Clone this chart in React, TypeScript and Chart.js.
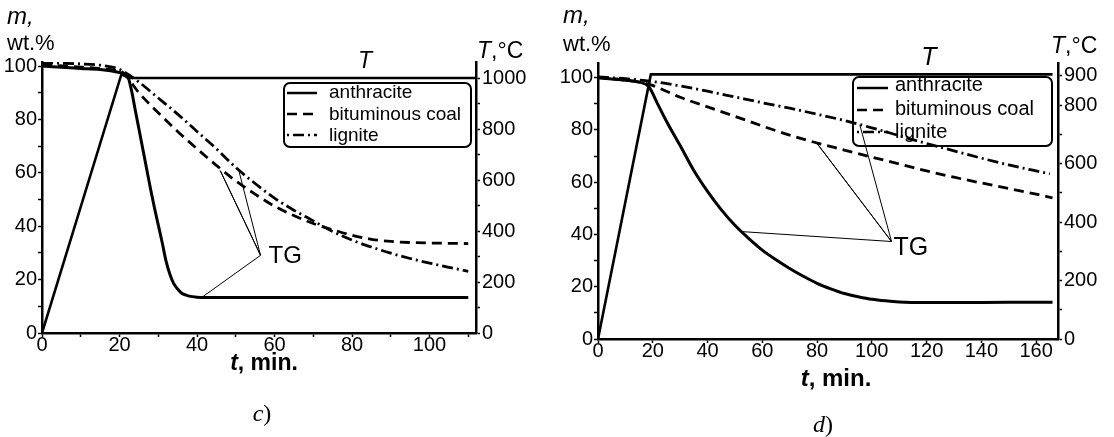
import React, { useEffect, useRef } from "react";
import { Chart, registerables } from "chart.js";

Chart.register(...registerables);

// ---------- Panel c) data ----------
const cTempTime = [0, 20.5, 22.5, 112];
const cTempValue = [0, 1015, 1000, 1000];

const cAnthraciteTime = [0, 5, 10, 15, 20, 21, 22, 23, 24, 25, 26, 27, 28, 29, 30, 31, 32, 33, 34, 35, 36, 37, 38, 40, 42, 50, 60, 70, 80, 90, 100, 110];
const cAnthraciteMass = [100, 99.5, 99.1, 98.7, 97.6, 97.2, 96.6, 91.5, 84, 76.5, 69, 61.5, 54, 47, 40.5, 34, 27, 22, 18.5, 16.5, 15, 14.3, 13.8, 13.4, 13.3, 13.3, 13.3, 13.3, 13.3, 13.3, 13.3, 13.3];

const cBituminousTime = [0, 10, 15, 20, 21, 25, 30, 35, 40, 45, 50, 55, 60, 65, 70, 75, 80, 85, 90, 95, 100, 105, 110];
const cBituminousMass = [100.5, 99.6, 99, 98, 97.4, 90, 82.5, 75.5, 69, 62.8, 57, 52, 47.5, 44, 41, 38.7, 36.6, 35.1, 34.3, 33.9, 33.7, 33.6, 33.5];

const cLigniteTime = [0, 10, 15, 20, 21, 25, 30, 35, 40, 45, 50, 55, 60, 65, 70, 75, 80, 85, 90, 95, 100, 105, 110];
const cLigniteMass = [101.2, 100.8, 100.3, 98.8, 98, 94, 88, 82, 75.5, 69, 62, 56, 50.5, 46, 42, 38, 34.8, 32.2, 29.9, 27.9, 26.2, 24.6, 23.1];

// TG leader lines (anthracite -> hub -> bituminous -> hub -> lignite)
const cLeaderTime = [41.3, 56.4, 46.0, 56.4, 50.8];
const cLeaderMass = [13.4, 29.1, 60.8, 29.1, 60.8];

// ---------- Panel d) data ----------
const dTempTime = [0, 19.3, 166];
const dTempValue = [0, 905, 905];

const dAnthraciteTime = [0, 5, 10, 15, 18.5, 22, 25, 30, 35, 40, 45, 50, 55, 60, 65, 70, 75, 80, 85, 90, 95, 100, 105, 110, 120, 140, 160, 166];
const dAnthraciteMass = [100, 99.5, 99, 98.3, 96.6, 89.5, 83.3, 74, 64.5, 56.5, 49.5, 43.5, 38.5, 34, 30.3, 27, 24, 21.3, 19.2, 17.4, 16.2, 15.2, 14.6, 14.2, 14, 14, 14.1, 14.1];

const dBituminousTime = [0, 10, 18.5, 25, 30, 40, 50, 60, 70, 80, 90, 100, 110, 120, 130, 140, 150, 160, 166];
const dBituminousMass = [100, 99, 97.5, 94.8, 92.5, 88.8, 85.2, 81.5, 78, 75, 72.3, 69.6, 67, 64.3, 61.9, 59.7, 57.6, 55.4, 54];

const dLigniteTime = [0, 10, 20, 30, 40, 50, 60, 70, 80, 90, 100, 110, 120, 130, 140, 150, 160, 165];
const dLigniteMass = [100.3, 99.6, 98.5, 96.8, 94.8, 92.6, 90.4, 88.3, 86, 83.6, 80.8, 77.8, 74.8, 72, 69.2, 66.6, 64.3, 63.2];

const dLeaderTime = [52.4, 107.2, 79.8, 107.2, 95.6];
const dLeaderMass = [41.1, 37.3, 75.1, 37.3, 82.0];

const legendLabels = ["anthracite", "bituminous coal", "lignite"];

// ---------- styling ----------
const SANS = "'Liberation Sans', Arial, Helvetica, sans-serif";
const SERIF = "'Liberation Serif', 'Times New Roman', serif";
const DASHED = [10, 6];
const DASHDOT = [11, 4, 2, 4];

const zip = (xs: number[], ys: number[]) => xs.map((x, i) => ({ x, y: ys[i] }));

type Part = { text: string; font: string };
type TextItem = { parts: Part[]; x: number; y: number; center?: boolean };

interface PanelSpec {
  left: number;
  width: number;
  top: number;
  yWidth: number;
  y1Width: number;
  xHeight: number;
  xMax: number;
  yMax: number;
  y1Max: number;
  xStep: number;
  y1Extra: number[];
  tickSize: number;
  temp: [number[], number[]];
  anth: [number[], number[]];
  bit: [number[], number[]];
  lig: [number[], number[]];
  leader: [number[], number[]];
  texts: TextItem[];
  tg: { dx: number; dy: number; size: number };
  legend: {
    x: number; y: number; w: number; h: number;
    rows: number[]; lines: number[]; sx0: number; sx1: number; tx: number; size: number;
  };
}

function makePlugin(s: PanelSpec) {
  return {
    id: "panelDecor",
    afterDraw(chart: any) {
      const ctx = chart.ctx as CanvasRenderingContext2D;
      ctx.save();
      ctx.fillStyle = "#000";
      ctx.strokeStyle = "#000";
      ctx.textBaseline = "alphabetic";
      ctx.textAlign = "left";
      for (const item of s.texts) {
        let total = 0;
        for (const p of item.parts) {
          ctx.font = p.font;
          total += ctx.measureText(p.text).width;
        }
        let x = item.center ? item.x - total / 2 : item.x;
        for (const p of item.parts) {
          ctx.font = p.font;
          ctx.fillText(p.text, x, item.y);
          x += ctx.measureText(p.text).width;
        }
      }
      // TG label next to the leader hub
      const hx = chart.scales.x.getPixelForValue(s.leader[0][1]);
      const hy = chart.scales.y.getPixelForValue(s.leader[1][1]);
      ctx.font = `${s.tg.size}px ${SANS}`;
      ctx.fillText("TG", hx + s.tg.dx, hy + s.tg.dy);

      // legend box
      const L = s.legend;
      ctx.lineWidth = 2;
      ctx.beginPath();
      (ctx as any).roundRect(L.x, L.y, L.w, L.h, 6);
      ctx.stroke();
      const dashes = [[], DASHED, DASHDOT];
      const offsets = [0, 0, 15];
      ctx.font = `${L.size}px ${SANS}`;
      for (let i = 0; i < 3; i++) {
        ctx.setLineDash(dashes[i]);
        ctx.lineDashOffset = offsets[i];
        ctx.lineWidth = 2.5;
        ctx.beginPath();
        ctx.moveTo(L.sx0, L.lines[i]);
        ctx.lineTo(L.sx1, L.lines[i]);
        ctx.stroke();
        ctx.setLineDash([]);
        ctx.fillText(legendLabels[i], L.tx, L.rows[i]);
      }
      ctx.restore();
    },
  };
}

function buildConfig(s: PanelSpec): any {
  const base = {
    borderColor: "#000",
    pointRadius: 0,
    pointHoverRadius: 0,
    fill: false,
  };
  const tickFont = { family: SANS, size: s.tickSize, lineHeight: 1 };
  const grid = {
    display: true,
    drawOnChartArea: false,
    drawTicks: true,
    tickLength: 4,
    tickColor: "#000",
    tickWidth: 1.5,
    color: "#000",
  };
  const border = { display: true, color: "#000", width: 2.5 };
  return {
    type: "line",
    data: {
      datasets: [
        { ...base, label: "T", data: zip(s.temp[0], s.temp[1]), yAxisID: "y1", borderWidth: 2.6, tension: 0 },
        { ...base, label: legendLabels[0], data: zip(s.anth[0], s.anth[1]), yAxisID: "y", borderWidth: 3, cubicInterpolationMode: "monotone" },
        { ...base, label: legendLabels[1], data: zip(s.bit[0], s.bit[1]), yAxisID: "y", borderWidth: 2.8, borderDash: DASHED, cubicInterpolationMode: "monotone" },
        { ...base, label: legendLabels[2], data: zip(s.lig[0], s.lig[1]), yAxisID: "y", borderWidth: 2.8, borderDash: DASHDOT, cubicInterpolationMode: "monotone" },
        { ...base, label: "TG", data: zip(s.leader[0], s.leader[1]), yAxisID: "y", borderWidth: 1, tension: 0 },
      ],
    },
    options: {
      responsive: false,
      animation: false,
      devicePixelRatio: 1,
      events: [],
      layout: { padding: { top: s.top, left: 0, right: 0, bottom: 0 } },
      plugins: { legend: { display: false }, tooltip: { enabled: false }, title: { display: false } },
      scales: {
        x: {
          type: "linear",
          position: "bottom",
          min: 0,
          max: s.xMax,
          ticks: {
            stepSize: s.xStep,
            autoSkip: false,
            maxRotation: 0,
            includeBounds: false,
            maxTicksLimit: 1000,
            padding: -2,
            color: "#000",
            font: tickFont,
            callback: (v: number) => (v % 20 === 0 ? String(v) : ""),
          },
          grid,
          border,
          afterFit: (sc: any) => { sc.height = s.xHeight; },
        },
        y: {
          type: "linear",
          position: "left",
          min: 0,
          max: s.yMax,
          ticks: {
            stepSize: 10,
            autoSkip: false,
            includeBounds: false,
            maxTicksLimit: 1000,
            padding: 1,
            color: "#000",
            font: tickFont,
            callback: (v: number) => (v % 20 === 0 ? String(v) : ""),
          },
          grid,
          border,
          afterFit: (sc: any) => { sc.width = s.yWidth; },
        },
        y1: {
          type: "linear",
          position: "right",
          min: 0,
          max: s.y1Max,
          ticks: {
            stepSize: 100,
            autoSkip: false,
            includeBounds: false,
            maxTicksLimit: 1000,
            padding: 2,
            color: "#000",
            font: tickFont,
            callback: (v: number) => (v % 200 === 0 || s.y1Extra.includes(v) ? String(v) : ""),
          },
          grid,
          border,
          afterFit: (sc: any) => { sc.width = s.y1Width; },
        },
      },
    },
    plugins: [makePlugin(s)],
  };
}

const specC: PanelSpec = {
  left: 0,
  width: 557,
  top: 62,
  yWidth: 42,
  y1Width: 81,
  xHeight: 104,
  xMax: 112,
  yMax: 101.5,
  y1Max: 1063,
  xStep: 10,
  y1Extra: [],
  tickSize: 20,
  temp: [cTempTime, cTempValue],
  anth: [cAnthraciteTime, cAnthraciteMass],
  bit: [cBituminousTime, cBituminousMass],
  lig: [cLigniteTime, cLigniteMass],
  leader: [cLeaderTime, cLeaderMass],
  texts: [
    { parts: [{ text: "m,", font: `italic 24px ${SANS}` }], x: 7, y: 24 },
    { parts: [{ text: "wt.%", font: `22px ${SANS}` }], x: 7, y: 50 },
    { parts: [{ text: "T", font: `italic 23px ${SANS}` }, { text: ",°C", font: `23px ${SANS}` }], x: 477, y: 58 },
    { parts: [{ text: "T", font: `italic 23px ${SANS}` }], x: 365, y: 68, center: true },
    { parts: [{ text: "t", font: `italic bold 23px ${SANS}` }, { text: ", min.", font: `bold 23px ${SANS}` }], x: 264, y: 370, center: true },
    { parts: [{ text: "c", font: `italic 24px ${SERIF}` }, { text: ")", font: `24px ${SERIF}` }], x: 262, y: 421, center: true },
  ],
  tg: { dx: 8, dy: 8, size: 24 },
  legend: { x: 284, y: 83, w: 187, h: 64, rows: [98, 120, 141], lines: [93, 114, 135], sx0: 287, sx1: 317, tx: 329, size: 19 },
};

const specD: PanelSpec = {
  left: 557,
  width: 557,
  top: 63,
  yWidth: 41,
  y1Width: 56,
  xHeight: 98,
  xMax: 168,
  yMax: 105.6,
  y1Max: 944,
  xStep: 20,
  y1Extra: [900],
  tickSize: 20,
  temp: [dTempTime, dTempValue],
  anth: [dAnthraciteTime, dAnthraciteMass],
  bit: [dBituminousTime, dBituminousMass],
  lig: [dLigniteTime, dLigniteMass],
  leader: [dLeaderTime, dLeaderMass],
  texts: [
    { parts: [{ text: "m,", font: `italic 24px ${SANS}` }], x: 6, y: 23 },
    { parts: [{ text: "wt.%", font: `22px ${SANS}` }], x: 6, y: 51 },
    { parts: [{ text: "T", font: `italic 23px ${SANS}` }, { text: ",°C", font: `23px ${SANS}` }], x: 494, y: 53 },
    { parts: [{ text: "T", font: `italic 25px ${SANS}` }], x: 372, y: 65, center: true },
    { parts: [{ text: "t", font: `italic bold 24px ${SANS}` }, { text: ", min.", font: `bold 24px ${SANS}` }], x: 279, y: 386, center: true },
    { parts: [{ text: "d", font: `italic 24px ${SERIF}` }, { text: ")", font: `24px ${SERIF}` }], x: 266, y: 432, center: true },
  ],
  tg: { dx: 2, dy: 13, size: 25 },
  legend: { x: 296, y: 77, w: 199, h: 69, rows: [91, 115, 138], lines: [88, 110, 132], sx0: 300, sx1: 331, tx: 338, size: 20 },
};

function Panel({ spec }: { spec: PanelSpec }) {
  const ref = useRef<HTMLCanvasElement | null>(null);
  useEffect(() => {
    if (!ref.current) return;
    const chart = new Chart(ref.current, buildConfig(spec));
    return () => chart.destroy();
  }, [spec]);
  return (
    <canvas
      ref={ref}
      width={spec.width}
      height={437}
      style={{ position: "absolute", left: spec.left, top: 0, width: spec.width, height: 437 }}
    />
  );
}

export default function App() {
  return (
    <div style={{ position: "absolute", left: 0, top: 0, width: 1114, height: 437, background: "#fff", overflow: "hidden" }}>
      <Panel spec={specC} />
      <Panel spec={specD} />
    </div>
  );
}
